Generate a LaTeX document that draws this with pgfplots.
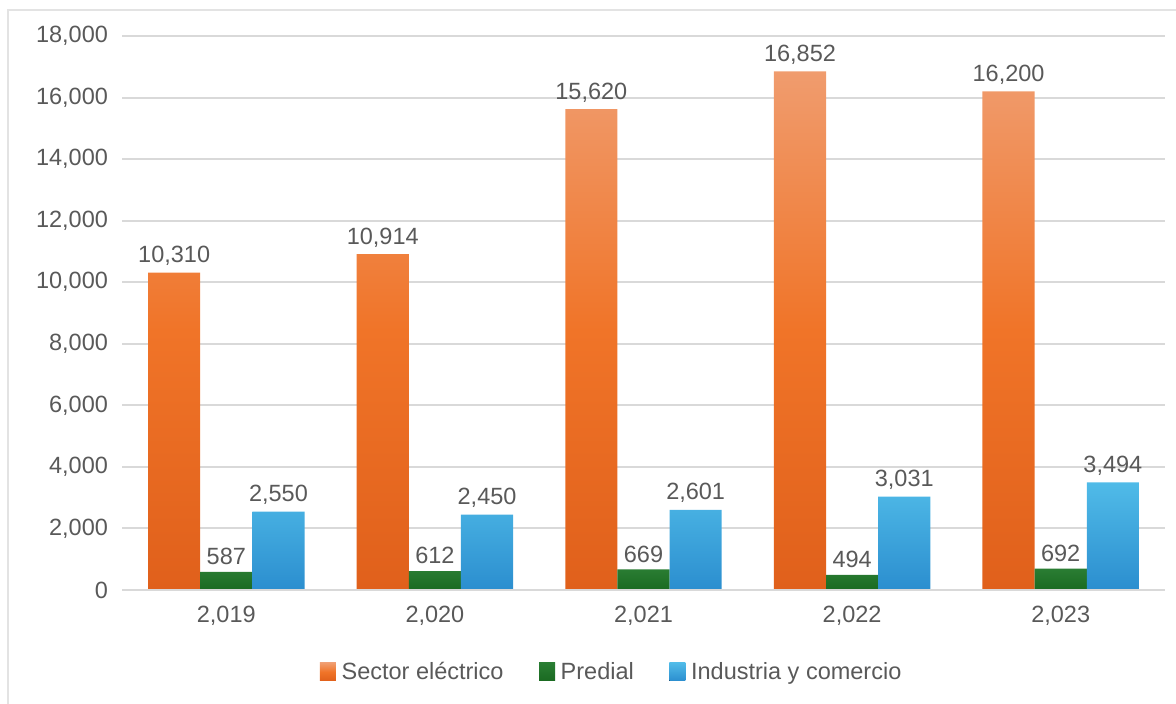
\documentclass[border=0pt]{standalone}
\usepackage{fontspec}
\setmainfont{Liberation Sans}
\usepackage{pgfplots}
\pgfplotsset{compat=1.18}
\definecolor{txt}{HTML}{595959}
\definecolor{gridc}{HTML}{D9D9D9}
\definecolor{framec}{HTML}{E3E3E3}
\definecolor{orT}{HTML}{F09C6E}
\definecolor{orM}{HTML}{F07428}
\definecolor{orB}{HTML}{E0601B}
\definecolor{grT}{HTML}{2A7D33}
\definecolor{grB}{HTML}{1A6A21}
\definecolor{blT}{HTML}{50BBE8}
\definecolor{blB}{HTML}{2B8ECF}
\pgfkeys{/pgf/number format/.cd, 1000 sep={,}, assume math mode=true}
\begin{document}
\begin{tikzpicture}[font=\fontsize{11.75pt}{14pt}\selectfont]
\useasboundingbox (0,0) rectangle (588pt,-352pt);
\draw[framec, line width=0.8pt] (4pt,-352pt) -- (4pt,-5pt) -- (588pt,-5pt);
\begin{axis}[
  at={(61pt,-295pt)}, anchor=south west,
  scale only axis, width=521.5pt, height=277pt,
  ybar=0pt, bar width=0.25,
  xmin=-0.5, xmax=4.5, ymin=0, ymax=18000,
  xtick={0,1,2,3,4},
  xticklabels={{2,019},{2,020},{2,021},{2,022},{2,023}},
  ytick={0,2000,...,18000},
  scaled y ticks=false,
  yticklabel={\pgfmathprintnumber{\tick}},
  major tick length=0pt,
  axis line style={draw=none},
  xmajorgrids=false, ymajorgrids=true,
  major grid style={draw=gridc, line width=1pt},
  tick label style={text=txt},
  yticklabel style={xshift=-3.5pt},
  xticklabel style={yshift=-4.6pt},
  nodes near coords,
  nodes near coords style={text=txt},
  legend columns=-1,
  legend style={at={(0.4712,-0.148)}, anchor=center, draw=none, fill=none, text=txt,
    /tikz/every even column/.append style={column sep=15pt},
    /tikz/every odd column/.append style={column sep=0pt},
    nodes={inner xsep=2.8pt}},
  legend image code/.code={\fill[#1] (0pt,-4.5pt) rectangle (8pt,4.5pt);},
]
\addplot[draw=none, top color=orT, bottom color=orB, middle color=orM] coordinates {(0,10310) (1,10914) (2,15620) (3,16852) (4,16200)};
\addplot[draw=none, top color=grT, bottom color=grB] coordinates {(0,587) (1,612) (2,669) (3,494) (4,692)};
\addplot[draw=none, top color=blT, bottom color=blB] coordinates {(0,2550) (1,2450) (2,2601) (3,3031) (4,3494)};
\draw[gridc, line width=1pt] (rel axis cs:0,0) -- (rel axis cs:1,0);
\legend{Sector eléctrico, Predial, Industria y comercio}
\end{axis}
\end{tikzpicture}
\end{document}
